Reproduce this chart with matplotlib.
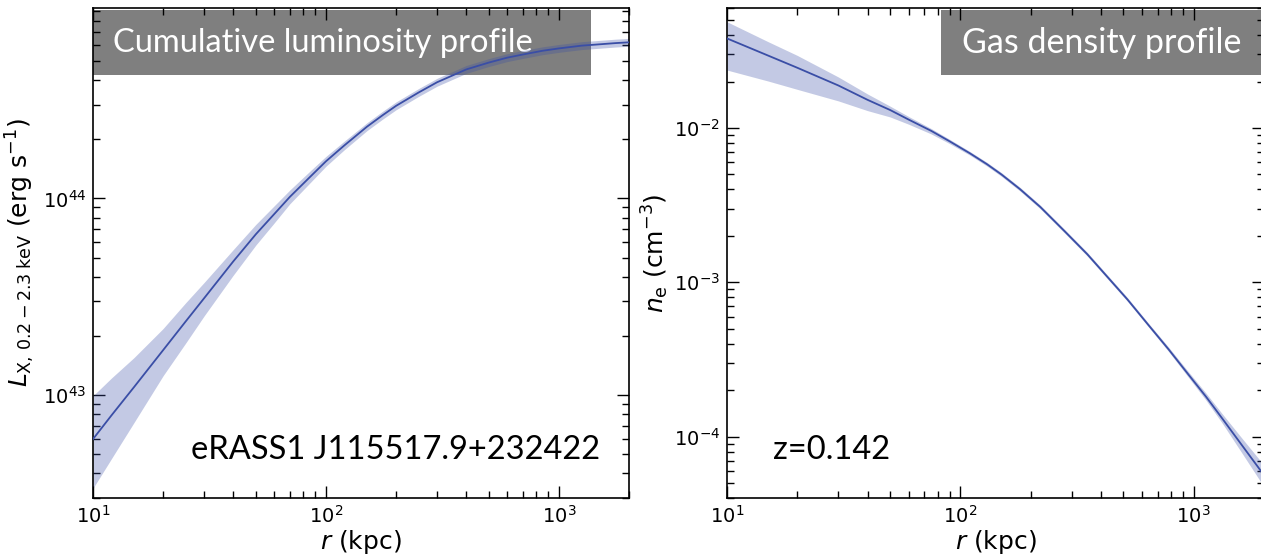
import matplotlib
matplotlib.use("Agg")
import numpy as np
import matplotlib.pyplot as plt
from matplotlib.patches import Rectangle
from matplotlib.ticker import NullFormatter

# cumulative luminosity profile (left)
r_lum = [10, 12, 15, 20, 25, 30, 40, 50, 60, 70, 85, 100, 120, 150, 175, 200,
         250, 300, 400, 500, 600, 700, 850, 1000, 1250, 1500, 1750, 2000]
lum = [5.98e42, 7.89e42, 1.099e43, 1.694e43, 2.371e43, 3.112e43, 4.786e43, 6.577e43,
       8.337e43, 1.019e44, 1.279e44, 1.545e44, 1.862e44, 2.317e44, 2.649e44, 2.958e44,
       3.459e44, 3.899e44, 4.529e44, 4.909e44, 5.200e44, 5.395e44, 5.636e44, 5.794e44,
       5.984e44, 6.081e44, 6.166e44, 6.223e44]
# half width of the shaded band, in dex (upper, lower)
lum_up_dex = [0.22, 0.19, 0.15, 0.11, 0.095, 0.08, 0.06, 0.05, 0.042, 0.035, 0.03, 0.025,
              0.022, 0.02, 0.02, 0.02, 0.02, 0.02, 0.02, 0.02, 0.02, 0.02, 0.02, 0.02,
              0.02, 0.02, 0.02, 0.02]
lum_lo_dex = [0.25, 0.22, 0.18, 0.13, 0.11, 0.09, 0.07, 0.055, 0.045, 0.035, 0.03, 0.025,
              0.022, 0.02, 0.02, 0.02, 0.02, 0.02, 0.02, 0.02, 0.02, 0.02, 0.02, 0.02,
              0.02, 0.02, 0.02, 0.02]

# gas density profile (right)
r_den = [10, 15, 20, 30, 40, 50, 60, 75, 90, 110, 130, 150, 180, 220, 280, 350,
         430, 520, 640, 780, 950, 1130, 1320, 1600, 1900, 2000]
ne = [0.0381, 0.0295, 0.0246, 0.01888, 0.01524, 0.01309, 0.01135, 0.00959, 0.00820,
      0.00685, 0.00583, 0.00500, 0.00402, 0.00308, 0.00214, 0.00152, 0.00107, 7.74e-4,
      5.28e-4, 3.68e-4, 2.52e-4, 1.81e-4, 1.32e-4, 8.89e-5, 6.25e-5, 5.62e-5]
ne_up_dex = [0.108, 0.09, 0.08, 0.055, 0.038, 0.025, 0.02, 0.015, 0.013, 0.012, 0.012,
             0.012, 0.012, 0.012, 0.012, 0.012, 0.012, 0.012, 0.012, 0.014, 0.018,
             0.023, 0.03, 0.045, 0.06, 0.065]
ne_lo_dex = [0.205, 0.165, 0.14, 0.10, 0.07, 0.045, 0.03, 0.02, 0.015, 0.012, 0.012,
             0.012, 0.012, 0.012, 0.012, 0.012, 0.012, 0.012, 0.012, 0.014, 0.018,
             0.023, 0.03, 0.05, 0.07, 0.075]

linea = '#3a4ea6'
caja = '#7f7f7f'
fuente_caja = 'Lato'

fig = plt.figure(figsize=(12.61, 5.56), dpi=100)
ax1 = fig.add_axes([93/1261, 58/556, 536/1261, 490/556])
ax2 = fig.add_axes([727/1261, 58/556, 537/1261, 490/556])

lum = np.array(lum)
ne = np.array(ne)
ax1.fill_between(r_lum, lum / 10**np.array(lum_lo_dex), lum * 10**np.array(lum_up_dex),
                 color=linea, alpha=0.3, lw=0, zorder=2)
ax1.plot(r_lum, lum, color=linea, lw=1.3, zorder=3)
ax2.fill_between(r_den, ne / 10**np.array(ne_lo_dex), ne * 10**np.array(ne_up_dex),
                 color=linea, alpha=0.3, lw=0, zorder=2)
ax2.plot(r_den, ne, color=linea, lw=1.3, zorder=3)

for ax in (ax1, ax2):
    ax.set_xscale('log')
    ax.set_yscale('log')
    ax.set_xlim(10, 2000)
    ax.tick_params(which='both', direction='in', top=True, right=True, labelsize=14, width=1)
    ax.tick_params(which='major', length=8.5, pad=5)
    ax.tick_params(which='minor', length=5)
    ax.xaxis.set_minor_formatter(NullFormatter())
    ax.yaxis.set_minor_formatter(NullFormatter())
    for s in ax.spines.values():
        s.set_linewidth(1.2)
    ax.set_xlabel(r'$r$ (kpc)', fontsize=18, labelpad=1)

ax1.set_ylim(3.0e42, 9.3e44)
ax2.set_ylim(4.0e-5, 6.0e-2)

ax1.set_ylabel(r'$L_{\rm X,\,0.2-2.3\;keV}$ (erg s$^{-1}$)', fontsize=18, labelpad=4)
ax2.set_ylabel(r'$n_{\rm e}$ (cm$^{-3}$)', fontsize=18, labelpad=2)

# cajas grises con titulo
ax1.add_patch(Rectangle((0, 0.8633), 0.929, 0.1326, transform=ax1.transAxes,
                        facecolor=caja, edgecolor='none', zorder=1))
ax1.text(0.037, 0.929, 'Cumulative luminosity profile', transform=ax1.transAxes,
         color='white', fontsize=23.5, family=fuente_caja, va='center', ha='left', zorder=1.5)
ax2.add_patch(Rectangle((0.3985, 0.8633), 0.61, 0.1326, transform=ax2.transAxes,
                        facecolor=caja, edgecolor='none', zorder=1, clip_on=False))
ax2.text(0.437, 0.929, 'Gas density profile', transform=ax2.transAxes,
         color='white', fontsize=24.5, family=fuente_caja, va='center', ha='left', zorder=1.5)

ax1.text(0.183, 0.098, 'eRASS1 J115517.9+232422', transform=ax1.transAxes,
         color='black', fontsize=23.5, family=fuente_caja, va='center', ha='left')
ax2.text(0.0857, 0.098, 'z=0.142', transform=ax2.transAxes,
         color='black', fontsize=23.5, family=fuente_caja, va='center', ha='left')

fig.savefig('out.png', dpi=100)
